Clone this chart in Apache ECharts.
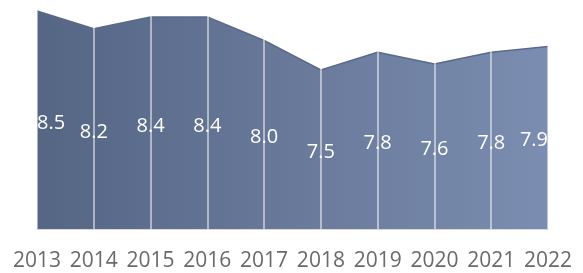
<!DOCTYPE html>
<html><head><meta charset="utf-8">
<script src="https://cdn.jsdelivr.net/npm/echarts@6/dist/echarts.min.js"></script>
<style>html,body{margin:0;padding:0;background:#fff}#c{width:583px;height:273px}</style>
</head><body><div id="c"></div>
<script>
var categories = ['2013','2014','2015','2016','2017','2018','2019','2020','2021','2022'];
var values = [8.5, 8.2, 8.4, 8.4, 8.0, 7.5, 7.8, 7.6, 7.8, 7.9];
var yMin = 4.805, yMax = 8.5;
var labelPos = values.map(function(v){ return (v + yMin) / 2; });

var chart = echarts.init(document.getElementById('c'));
chart.setOption({
  animation: false,
  grid: {left: 37, right: 35, top: 11, bottom: 44},
  xAxis: {
    type: 'category', data: categories, boundaryGap: false,
    axisLine: {show: true, lineStyle: {color: '#d9d9d9', width: 1}},
    axisTick: {show: false},
    axisLabel: {color: '#6a6a6a', fontSize: 21, fontFamily: 'Open Sans', margin: 22, showMinLabel: true, showMaxLabel: true, interval: 0},
    splitLine: {show: true, lineStyle: {color: 'rgba(255,255,255,0.5)', width: 2}},
    z: 5
  },
  yAxis: {type: 'value', min: yMin, max: yMax, show: false, splitLine: {show: false}},
  series: [{
    type: 'line', data: values, symbol: 'none',
    lineStyle: {color: '#5a6a89', width: 1.5},
    areaStyle: {opacity: 1, color: new echarts.graphic.LinearGradient(0, 0, 1, 0, [
      {offset: 0, color: '#556584'}, {offset: 1, color: '#7b8db0'}])},
    z: 1
  }, {
    type: 'scatter', data: labelPos.map(function(p, i){
      var d = {value: p, label: {}};
      if (i === 0) d.label.align = 'left';
      if (i === labelPos.length - 1) d.label.align = 'right';
      return d;
    }),
    symbolSize: 0, silent: true, z: 10,
    itemStyle: {opacity: 1},
    label: {show: true, position: 'inside', offset: [0, 3], color: '#ffffff', opacity: 1, fontSize: 20, fontFamily: 'Open Sans',
      formatter: function(p){ return values[p.dataIndex].toFixed(1); }}
  }]
});
</script></body></html>
